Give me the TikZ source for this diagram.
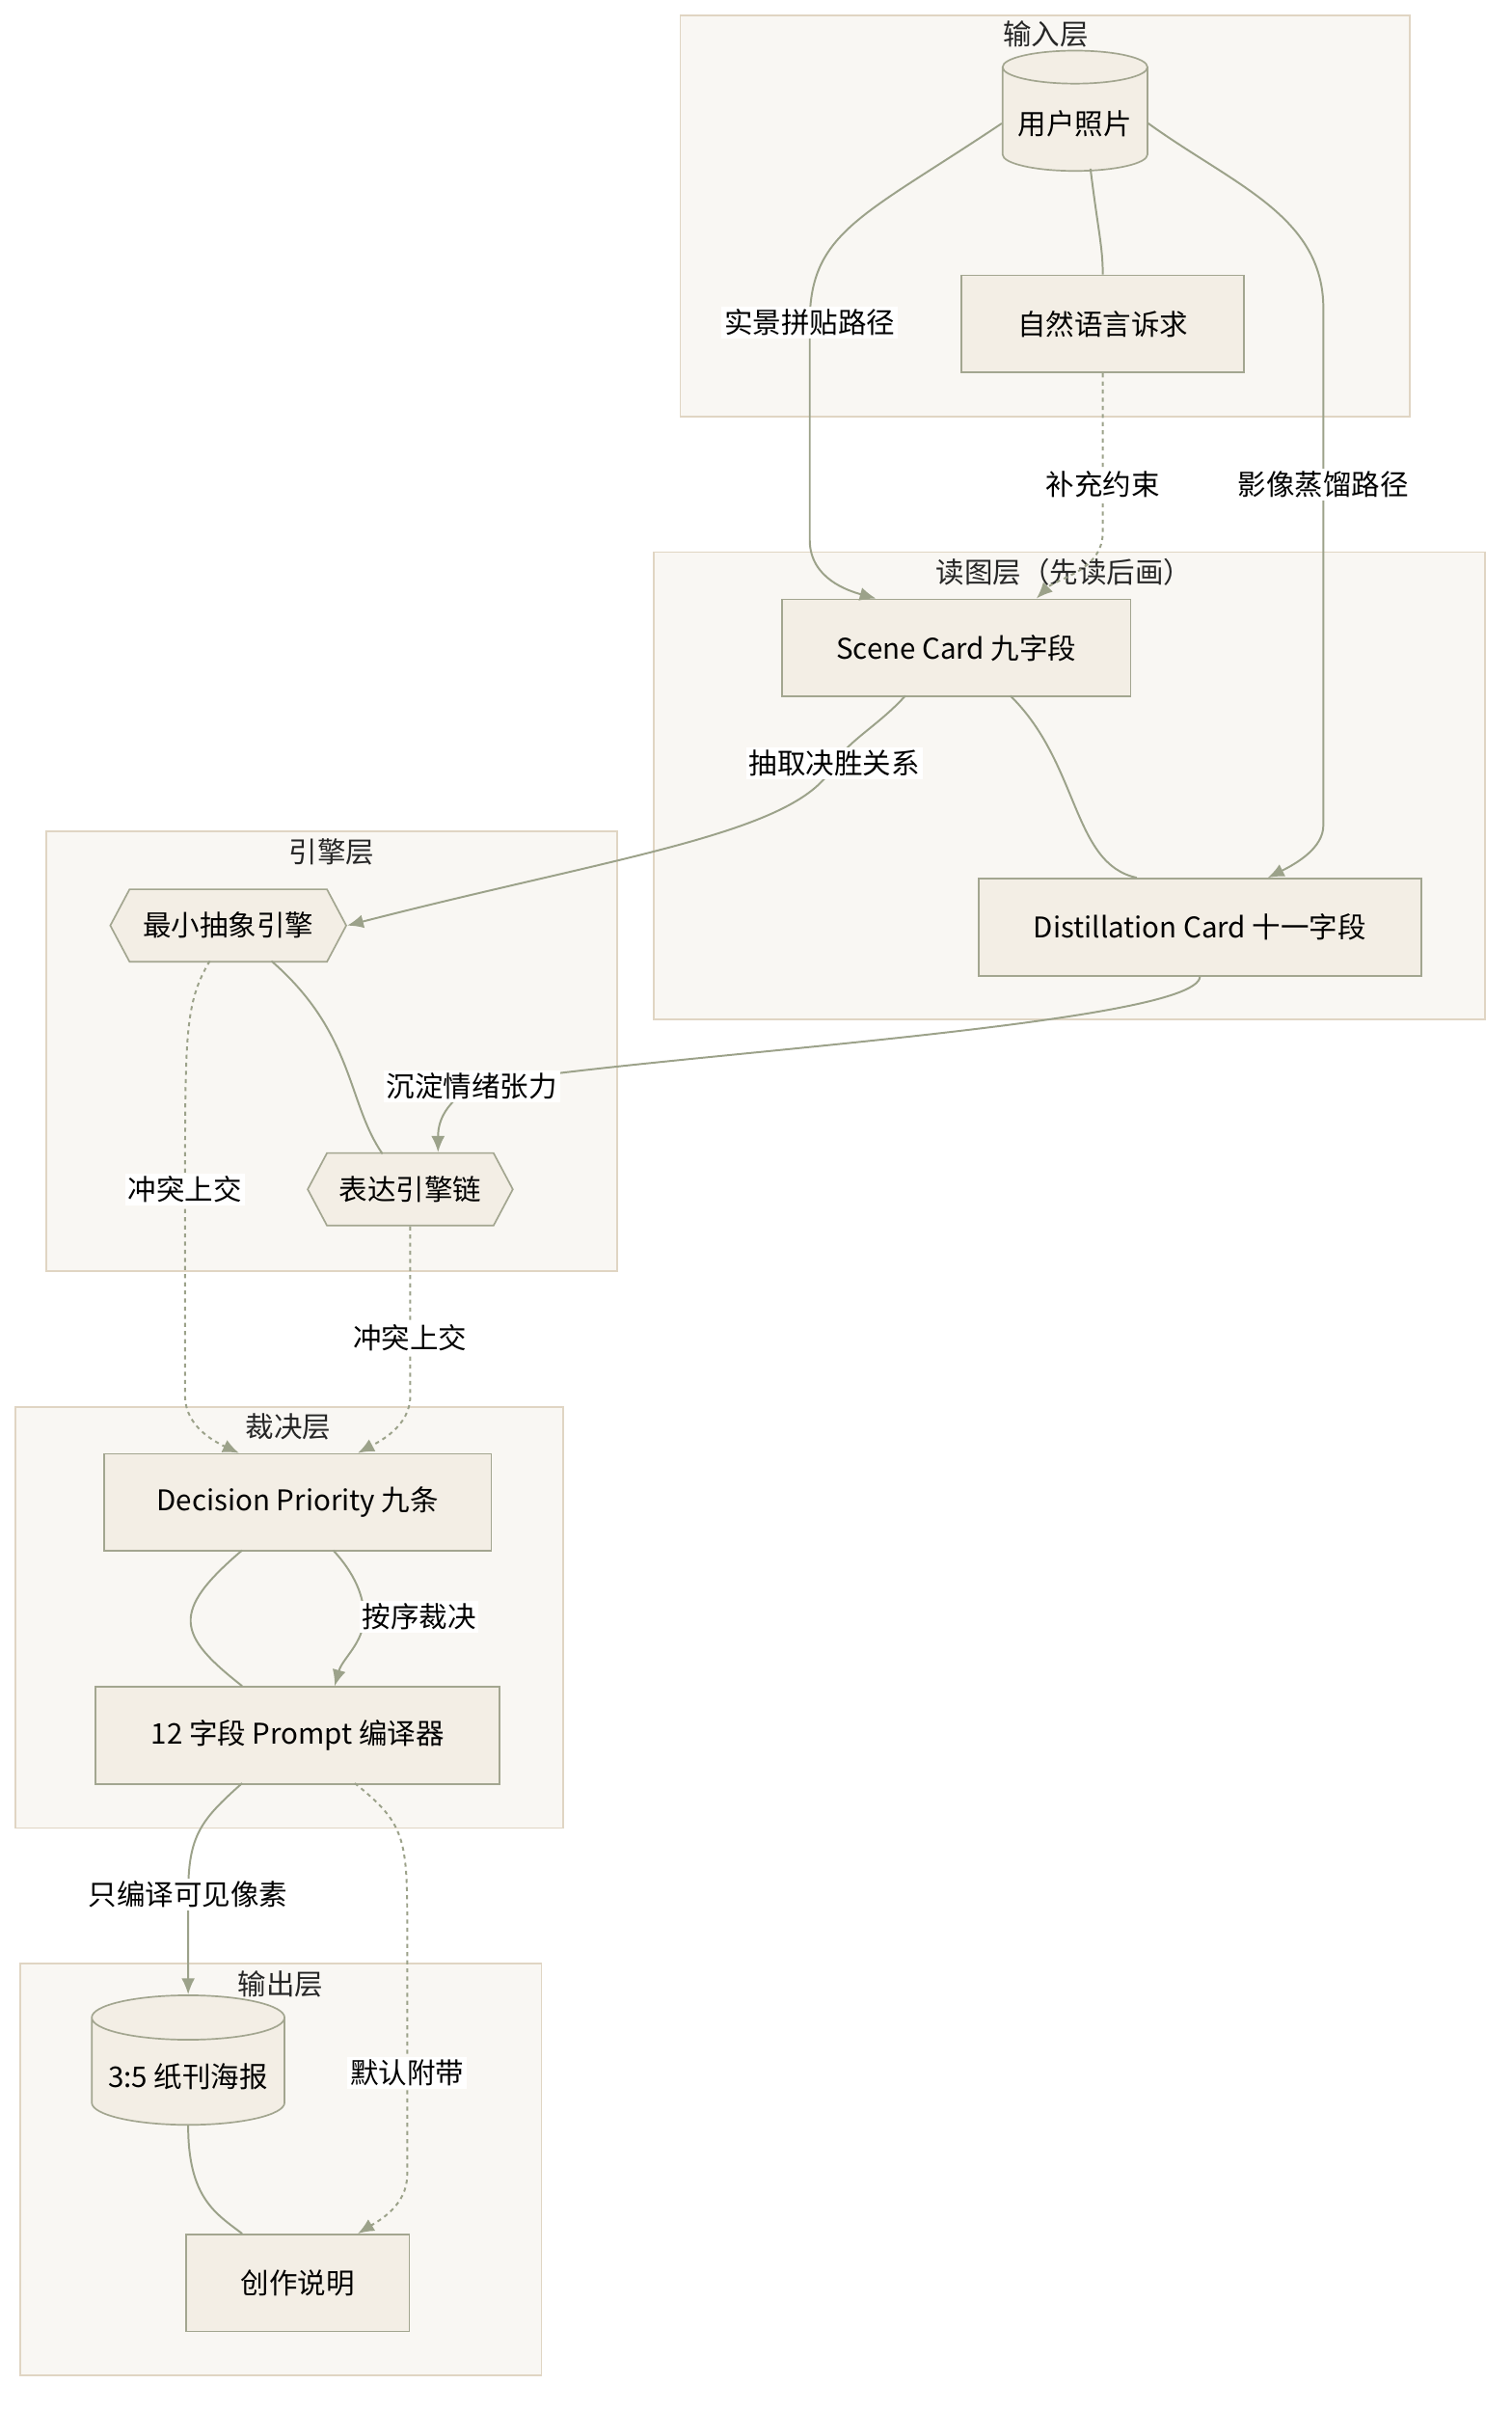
\documentclass[tikz,border=0pt]{standalone}
\usepackage{fontspec}
\setmainfont{Noto Sans CJK SC}
\usetikzlibrary{shapes.geometric,shapes.symbols,arrows.meta}
\definecolor{clfill}{HTML}{F9F7F3}
\definecolor{cldraw}{HTML}{E0D5C3}
\definecolor{ndfill}{HTML}{F3EEE5}
\definecolor{nddraw}{HTML}{A3A690}
\definecolor{edge}{HTML}{9CA28A}
\tikzset{
  layer/.style={draw=cldraw, fill=clfill, line width=0.6pt},
  ttl/.style={font=\fontsize{10.5}{12}\selectfont, text=black!85},
  box/.style={draw=nddraw, fill=ndfill, line width=0.6pt, minimum height=1.26cm, font=\fontsize{10.5}{12}\selectfont},
  db/.style={box, cylinder, shape border rotate=90, aspect=0.25, minimum height=1.56cm},
  hexa/.style={box, signal, signal to=east and west, signal pointer angle=124, minimum height=0.94cm},
  lbl/.style={fill=white, inner sep=1pt, font=\fontsize{10.5}{12}\selectfont},
  link/.style={draw=edge, line width=0.7pt},
  arr/.style={link, -{Latex[length=6pt,width=5pt]}},
  dot/.style={dash pattern=on 1.5pt off 1.5pt}
}
\begin{document}
\begin{tikzpicture}[x=0.02cm, y=-0.02cm]
\useasboundingbox (0,0) rectangle (980,1563);

% layers
\draw[layer] (441,10) rectangle (914,270);
\node[ttl] at (678,22) {输入层};
\draw[layer] (424,358) rectangle (963,661);
\node[ttl] at (690,371) {读图层（先读后画）};
\draw[layer] (30,539) rectangle (400,824);
\node[ttl] at (215,552) {引擎层};
\draw[layer] (10,912) rectangle (365,1185);
\node[ttl] at (187,925) {裁决层};
\draw[layer] (13,1273) rectangle (351,1540);
\node[ttl] at (182,1286) {输出层};

% nodes
\node[db, minimum width=1.88cm] (photo) at (697,80) {用户照片};
\node[box, minimum width=3.66cm] (need) at (715,210) {自然语言诉求};
\node[box, minimum width=4.52cm] (scene) at (620,420) {Scene Card 九字段};
\node[box, minimum width=5.74cm] (distill) at (778,601) {Distillation Card 十一字段};
\node[hexa, minimum width=3.06cm] (minimal) at (148,600) {最小抽象引擎};
\node[hexa, minimum width=2.66cm] (express) at (266,771) {表达引擎链};
\node[box, minimum width=5.02cm] (priority) at (193,974) {Decision Priority 九条};
\node[box, minimum width=5.24cm] (compiler) at (193,1125) {12 字段 Prompt 编译器};
\node[db, minimum width=2.5cm, minimum height=1.68cm] (poster) at (122,1346) {3:5 纸刊海报};
\node[box, minimum width=2.9cm] (note) at (193,1480) {创作说明};

% connectors
\draw[arr] (photo.west) .. controls (560,140) and (525,150) .. (525,209) node[lbl] {实景拼贴路径}
  -- (525,350) .. controls (525,375) and (550,383) .. (scene.north west -| 568,0);
\draw[link] (photo.south) ++(10,-2) .. controls (712,150) and (715,160) .. (need.north);
\draw[arr, dot] (need.south) -- (715,314) node[lbl] {补充约束}
  -- (715,345) .. controls (715,370) and (685,375) .. (672,388);
\draw[arr] (photo.east) .. controls (800,120) and (858,140) .. (858,200)
  -- (858,314) node[lbl] {影像蒸馏路径}
  -- (858,535) .. controls (858,550) and (840,560) .. (822,569);
\draw[arr] (587,451) .. controls (570,470) and (550,480) .. (541,495) node[lbl] {抽取决胜关系}
  .. controls (520,540) and (400,555) .. (minimal.east);
\draw[link] (655,451) .. controls (700,495) and (695,560) .. (737,569);
\draw[arr] (distill.south) .. controls (777,665) and (400,685) .. (306,704) node[lbl] {沉淀情绪张力}
  .. controls (290,715) and (284,725) .. (express.north -| 284,0);
\draw[link] (176,623) .. controls (230,670) and (225,715) .. (248,748);
\draw[arr, dot] (136,623) .. controls (120,650) and (120,670) .. (120,771) node[lbl] {冲突上交}
  -- (120,905) .. controls (120,925) and (140,935) .. (155,942);
\draw[arr, dot] (express.south) -- (266,867) node[lbl] {冲突上交}
  -- (266,905) .. controls (266,925) and (245,935) .. (232,942);
\draw[link] (157,1005) .. controls (110,1045) and (115,1060) .. (157,1093);
\draw[arr] (216,1005) .. controls (230,1020) and (236,1035) .. (236,1048) node[lbl, right=-2pt] {按序裁决}
  .. controls (236,1065) and (222,1075) .. (217,1093);
\draw[arr] (157,1156) .. controls (130,1180) and (122,1190) .. (122,1228) node[lbl] {只编译可见像素}
  -- (poster.north);
\draw[arr, dot] (230,1156) .. controls (260,1180) and (264,1190) .. (264,1240)
  -- (264,1344) node[lbl] {默认附带}
  -- (264,1410) .. controls (264,1430) and (245,1440) .. (232,1448);
\draw[link] (poster.south) .. controls (122,1425) and (140,1435) .. (157,1448);
\end{tikzpicture}
\end{document}
